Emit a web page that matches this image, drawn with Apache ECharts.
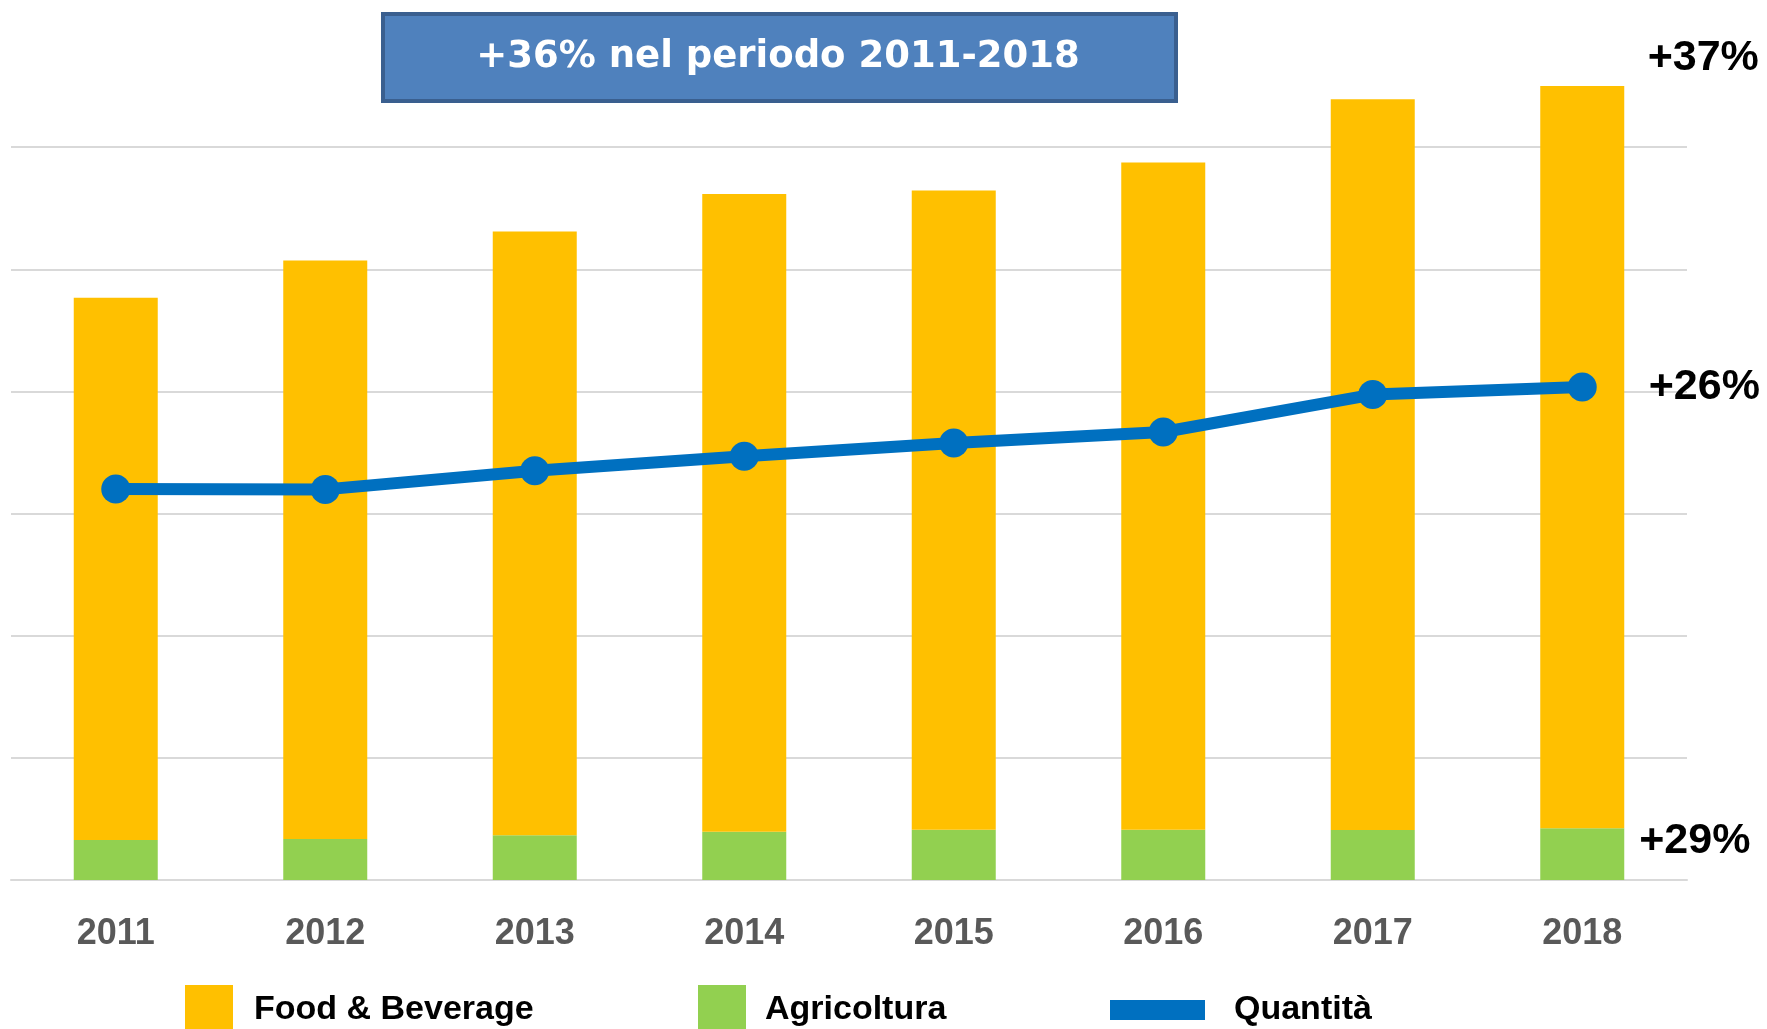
<!DOCTYPE html>
<html>
<head>
<meta charset="utf-8">
<script src="https://cdn.jsdelivr.net/npm/echarts@6/dist/echarts.min.js"></script>
<style>
  html, body { margin: 0; padding: 0; background: #fff; }
  #chart { width: 1767px; height: 1029px; }
</style>
</head>
<body>
<div id="chart"></div>
<script>
// valori (unità: 5 = una linea di griglia)
const years = ['2011', '2012', '2013', '2014', '2015', '2016', '2017', '2018'];
const foodBeverage = [22.19, 23.68, 24.72, 26.10, 26.17, 27.31, 29.91, 30.38];
const agricoltura = [1.64, 1.68, 1.83, 1.98, 2.06, 2.06, 2.05, 2.12];
const quantita = [16.01, 15.99, 16.75, 17.35, 17.89, 18.34, 19.87, 20.18];

const titleText = '+36% nel periodo 2011-2018';
const foodGrowth = '+37%';
const agriGrowth = '+29%';
const qtyGrowth = '+26%';

const sans = '"Liberation Sans", Arial, sans-serif';
const growthStyle = {
  show: true,
  fontFamily: sans,
  fontWeight: 'bold',
  fontSize: 43,
  color: '#000'
};

const last = years.length - 1;

// etichetta solo sull'ultimo punto
function withLastLabel(values, label) {
  return values.map((v, i) => i === last ? { value: v, label: label } : v);
}

const chart = echarts.init(document.getElementById('chart'));

const legendText = {
  fontFamily: sans,
  fontWeight: 'bold',
  fontSize: 34,
  lineHeight: 50,
  color: '#000'
};

const option = {
  backgroundColor: '#fff',
  animation: false,
  grid: { left: 11, right: 80, top: 25, bottom: 149 },
  xAxis: {
    type: 'category',
    data: years,
    axisTick: { show: false },
    axisLine: { lineStyle: { color: '#d9d9d9', width: 2 } },
    axisLabel: {
      margin: 36,
      fontFamily: sans,
      fontWeight: 'bold',
      fontSize: 36,
      lineHeight: 36,
      color: '#595959'
    }
  },
  yAxis: {
    type: 'value',
    min: 0,
    max: 35,
    interval: 5,
    axisLabel: { show: false },
    axisLine: { show: false },
    axisTick: { show: false },
    splitLine: {
      show: true,
      showMaxLine: false,
      lineStyle: { color: '#d9d9d9', width: 2 }
    }
  },
  legend: [
    {
      left: 185, top: 985, padding: 0, selectedMode: false,
      itemWidth: 48, itemHeight: 50,
      data: [{ name: 'Food & Beverage', icon: 'rect' }],
      textStyle: Object.assign({ padding: [0, 0, 0, 16] }, legendText)
    },
    {
      left: 698, top: 985, padding: 0, selectedMode: false,
      itemWidth: 48, itemHeight: 50,
      data: [{ name: 'Agricoltura', icon: 'rect' }],
      textStyle: Object.assign({ padding: [0, 0, 0, 14] }, legendText)
    },
    {
      left: 1110, top: 981, padding: 0, selectedMode: false,
      itemWidth: 95, itemHeight: 20,
      data: [{ name: 'Quantità', icon: 'rect' }],
      textStyle: Object.assign({ padding: [8, 0, 0, 24] }, legendText)
    }
  ],
  graphic: [
    {
      type: 'rect',
      left: 381, top: 12,
      shape: { width: 793, height: 87 },
      style: { fill: '#4f81bd', stroke: '#3a5f8f', lineWidth: 4 },
      z: 10
    },
    {
      type: 'text',
      x: 778, y: 57,
      style: {
        text: titleText,
        fill: '#fff',
        font: 'bold 37px "DejaVu Sans", sans-serif',
        align: 'center',
        verticalAlign: 'middle'
      },
      z: 11
    }
  ],
  series: [
    {
      name: 'Agricoltura',
      type: 'bar',
      stack: 'export',
      barWidth: 84,
      itemStyle: { color: '#92d050' },
      data: withLastLabel(agricoltura, Object.assign({
        position: 'right', offset: [10, -13], formatter: agriGrowth
      }, growthStyle))
    },
    {
      name: 'Food & Beverage',
      type: 'bar',
      stack: 'export',
      barWidth: 84,
      itemStyle: { color: '#ffc000' },
      data: withLastLabel(foodBeverage, Object.assign({
        position: 'top', offset: [121, -1], formatter: foodGrowth
      }, growthStyle))
    },
    {
      name: 'Quantità',
      type: 'line',
      z: 5,
      symbol: 'circle',
      symbolSize: 29,
      itemStyle: { color: '#0070c0' },
      lineStyle: { color: '#0070c0', width: 12 },
      data: withLastLabel(quantita, Object.assign({
        position: 'right', offset: [47, 0], formatter: qtyGrowth
      }, growthStyle))
    }
  ]
};

chart.setOption(option);
</script>
</body>
</html>
